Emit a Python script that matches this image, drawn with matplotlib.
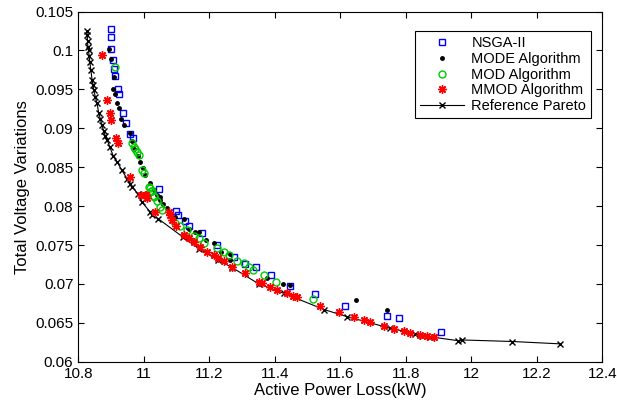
import numpy as np
import matplotlib
matplotlib.use("Agg")
import matplotlib.pyplot as plt
from matplotlib.ticker import FuncFormatter

plt.rcParams['font.family'] = ['Liberation Sans', 'DejaVu Sans']

# NSGA-II (blue squares)
nsga_x = [10.900, 10.901, 10.901, 10.905, 10.908, 10.911, 10.921, 10.923, 10.935, 10.944,
          10.959, 10.967, 11.045, 11.099, 11.104, 11.127, 11.139, 11.178, 11.223, 11.274,
          11.310, 11.343, 11.388, 11.447, 11.522, 11.615, 11.743, 11.780, 11.908]
nsga_y = [0.1027, 0.1017, 0.1002, 0.0988, 0.0976, 0.0967, 0.0950, 0.0944, 0.0919, 0.0907,
          0.0893, 0.0887, 0.0822, 0.0794, 0.0789, 0.0781, 0.0775, 0.0765, 0.0750, 0.0735,
          0.0725, 0.0722, 0.0711, 0.0697, 0.0687, 0.0672, 0.0659, 0.0656, 0.0638]

# MODE (black dots)
mode_x = [10.893, 10.901, 10.908, 10.905, 10.913, 10.918, 10.923, 10.931, 10.938, 10.957,
          10.964, 10.971, 10.981, 10.987, 10.998, 11.005, 11.018, 11.030, 11.040, 11.048,
          11.050, 11.060, 11.071, 11.096, 11.124, 11.137, 11.155, 11.167, 11.191, 11.215,
          11.236, 11.264, 11.264, 11.376, 11.424, 11.445, 11.649, 11.743]
mode_y = [0.1002, 0.0989, 0.0966, 0.0951, 0.0944, 0.0932, 0.0926, 0.0912, 0.0904, 0.0894,
          0.0883, 0.0873, 0.0864, 0.0857, 0.0849, 0.0840, 0.0830, 0.0821, 0.0814, 0.0812,
          0.0808, 0.0803, 0.0798, 0.0786, 0.0784, 0.0771, 0.0767, 0.0767, 0.0756, 0.0752,
          0.0741, 0.0738, 0.0731, 0.0707, 0.0700, 0.0698, 0.0679, 0.0666]

# MOD (green circles)
mod_x = [10.913, 10.964, 10.969, 10.974, 10.979, 10.984, 10.995, 11.000, 11.015, 11.018,
         11.022, 11.025, 11.030, 11.032, 11.040, 11.050, 11.056, 11.096, 11.111, 11.132,
         11.152, 11.167, 11.183, 11.223, 11.244, 11.259, 11.285, 11.305, 11.320, 11.333,
         11.366, 11.405, 11.517]
mod_y = [0.0979, 0.0881, 0.0876, 0.0873, 0.0870, 0.0866, 0.0846, 0.0842, 0.0824, 0.0823,
         0.0819, 0.0819, 0.0812, 0.0813, 0.0806, 0.0799, 0.0795, 0.0778, 0.0774, 0.0769,
         0.0761, 0.0759, 0.0752, 0.0746, 0.0741, 0.0737, 0.0729, 0.0727, 0.0722, 0.0718,
         0.0711, 0.0703, 0.0680]

# MMOD (red asterisks)
mmod_x = [10.872, 10.886, 10.896, 10.900, 10.916, 10.921, 10.957, 10.992, 11.005, 11.008,
          11.010, 11.033, 11.076, 11.081, 11.086, 11.099, 11.124, 11.137, 11.152, 11.173,
          11.193, 11.213, 11.228, 11.244, 11.269, 11.310, 11.351, 11.361, 11.386, 11.407,
          11.437, 11.457, 11.467, 11.539, 11.595, 11.641, 11.671, 11.692, 11.733, 11.763,
          11.794, 11.814, 11.844, 11.865, 11.885]
mmod_y = [0.0994, 0.0936, 0.0919, 0.0911, 0.0888, 0.0881, 0.0838, 0.0814, 0.0814, 0.0814,
          0.0810, 0.0793, 0.0792, 0.0789, 0.0782, 0.0774, 0.0763, 0.0759, 0.0754, 0.0748,
          0.0741, 0.0737, 0.0733, 0.0729, 0.0722, 0.0714, 0.0703, 0.0701, 0.0696, 0.0692,
          0.0688, 0.0684, 0.0683, 0.0672, 0.0664, 0.0658, 0.0654, 0.0651, 0.0646, 0.0642,
          0.0639, 0.0637, 0.0634, 0.0633, 0.0632]

# Reference Pareto (black line with x)
ref_x = [10.826, 10.827, 10.828, 10.829, 10.831, 10.833, 10.835, 10.838, 10.842, 10.845,
         10.847, 10.852, 10.857, 10.862, 10.867, 10.872, 10.877, 10.882, 10.888, 10.896,
         10.906, 10.918, 10.933, 10.949, 10.959, 10.964, 10.981, 10.995, 11.018, 11.025,
         11.043, 11.12, 11.17, 11.225, 11.27, 11.351, 11.427, 11.551, 11.620, 11.753,
         11.829, 11.849, 11.875, 11.961, 11.972, 12.126, 12.270]
ref_y = [0.1025, 0.1020, 0.1012, 0.1005, 0.1000, 0.0993, 0.0985, 0.0975, 0.0962, 0.0955,
         0.0949, 0.0940, 0.0932, 0.0920, 0.0912, 0.0904, 0.0897, 0.0890, 0.0885, 0.0876,
         0.0865, 0.0857, 0.0846, 0.0835, 0.0828, 0.0825, 0.0816, 0.0805, 0.0793, 0.0789,
         0.0784, 0.0760, 0.0745, 0.0731, 0.0721, 0.0700, 0.0688, 0.0667, 0.0658, 0.0643,
         0.0636, 0.0633, 0.0632, 0.0627, 0.0628, 0.0626, 0.0623]

fig = plt.figure(figsize=(6.17, 4.12), dpi=100)
ax = fig.add_axes([0.127, 0.122, 0.849, 0.850])

ax.plot(nsga_x, nsga_y, 's', color='#0000ff', mfc='none', ms=5, mew=1.0, label='NSGA-II', zorder=3)
ax.plot(mode_x, mode_y, '.', color='black', ms=5, label='MODE Algorithm', zorder=3)
ax.plot(mod_x, mod_y, 'o', color='#00cc00', mfc='none', ms=5, mew=1.0, label='MOD Algorithm', zorder=3)
ax.plot(mmod_x, mmod_y, marker=(8, 2, 0), ls='none', color='red', ms=6, mew=1.0,
        label='MMOD Algorithm', zorder=4)
ax.plot(ref_x, ref_y, '-x', color='black', lw=0.8, ms=5, mew=1.0, label='Reference Pareto', zorder=2)

ax.set_xlim(10.8, 12.4)
ax.set_ylim(0.06, 0.105)
ax.set_xticks(np.arange(10.8, 12.41, 0.2))
ax.set_yticks(np.arange(0.06, 0.1051, 0.005))
fmt = FuncFormatter(lambda v, p: '%g' % round(v, 4))
ax.xaxis.set_major_formatter(fmt)
ax.yaxis.set_major_formatter(fmt)
ax.tick_params(direction='in', top=True, right=True, labelsize=11, length=4)

ax.set_xlabel('Active Power Loss(kW)', fontsize=12, labelpad=2)
ax.set_ylabel('Total Voltage Variations', fontsize=12, labelpad=4)

leg = ax.legend(loc='upper right', bbox_to_anchor=(0.993, 0.965), fontsize=10.5, fancybox=False,
                edgecolor='black', framealpha=1, handlelength=3.0, borderpad=0.35,
                labelspacing=0.12, handletextpad=0.5)
leg.get_frame().set_linewidth(0.8)

fig.savefig('out.png', dpi=100)
